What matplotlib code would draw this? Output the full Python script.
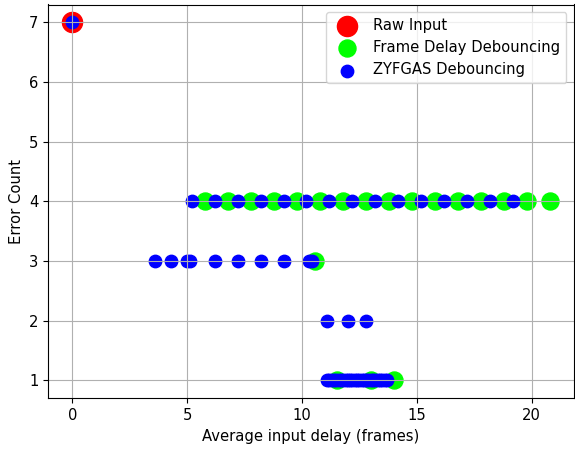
import numpy as np
import matplotlib.pyplot as plt

plt.rcParams["font.size"] = 10.6

# raw input
raw_x = [0.0]
raw_y = [7]

# frame delay debouncing
fd_x = [5.8, 6.8, 7.8, 8.8, 9.8, 10.8, 11.8, 12.8, 13.8, 14.8, 15.8, 16.8, 17.8, 18.8, 19.8, 20.8,
        10.55, 11.55, 13.0, 14.0]
fd_y = [4] * 16 + [3, 1, 1, 1]

# ZYFGAS debouncing
zy_x = [0.0,
        5.2, 6.2, 7.2, 8.2, 9.2, 10.2, 11.2, 12.2, 13.2, 14.2, 15.2, 16.2, 17.2, 18.2, 19.2,
        3.6, 4.3, 5.0, 5.15, 6.2, 7.2, 8.2, 9.2, 10.3, 10.45,
        11.1, 12.0, 12.8,
        11.1, 11.2, 11.3, 11.4, 11.5, 11.6, 11.7, 11.8, 11.9, 12.0, 12.1, 12.2, 12.3, 12.4,
        12.5, 12.6, 12.7, 12.8, 12.9, 13.0, 13.1, 13.2, 13.3, 13.4, 13.5, 13.6, 13.7]
zy_y = [7] + [4] * 15 + [3] * 10 + [2] * 3 + [1] * 27

fig, ax = plt.subplots(figsize=(5.75, 4.5), dpi=100)
ax.scatter(raw_x, raw_y, s=210, c="red", label="Raw Input")
ax.scatter(fd_x, fd_y, s=150, c="lime", label="Frame Delay Debouncing")
ax.scatter(zy_x, zy_y, s=80, c="blue", label="ZYFGAS Debouncing")
ax.set_xlabel("Average input delay (frames)")
ax.set_ylabel("Error Count")
ax.grid(True)
ax.legend(loc="upper right")
fig.subplots_adjust(left=0.084, right=0.998, top=0.99, bottom=0.115)
fig.savefig("out.png")
